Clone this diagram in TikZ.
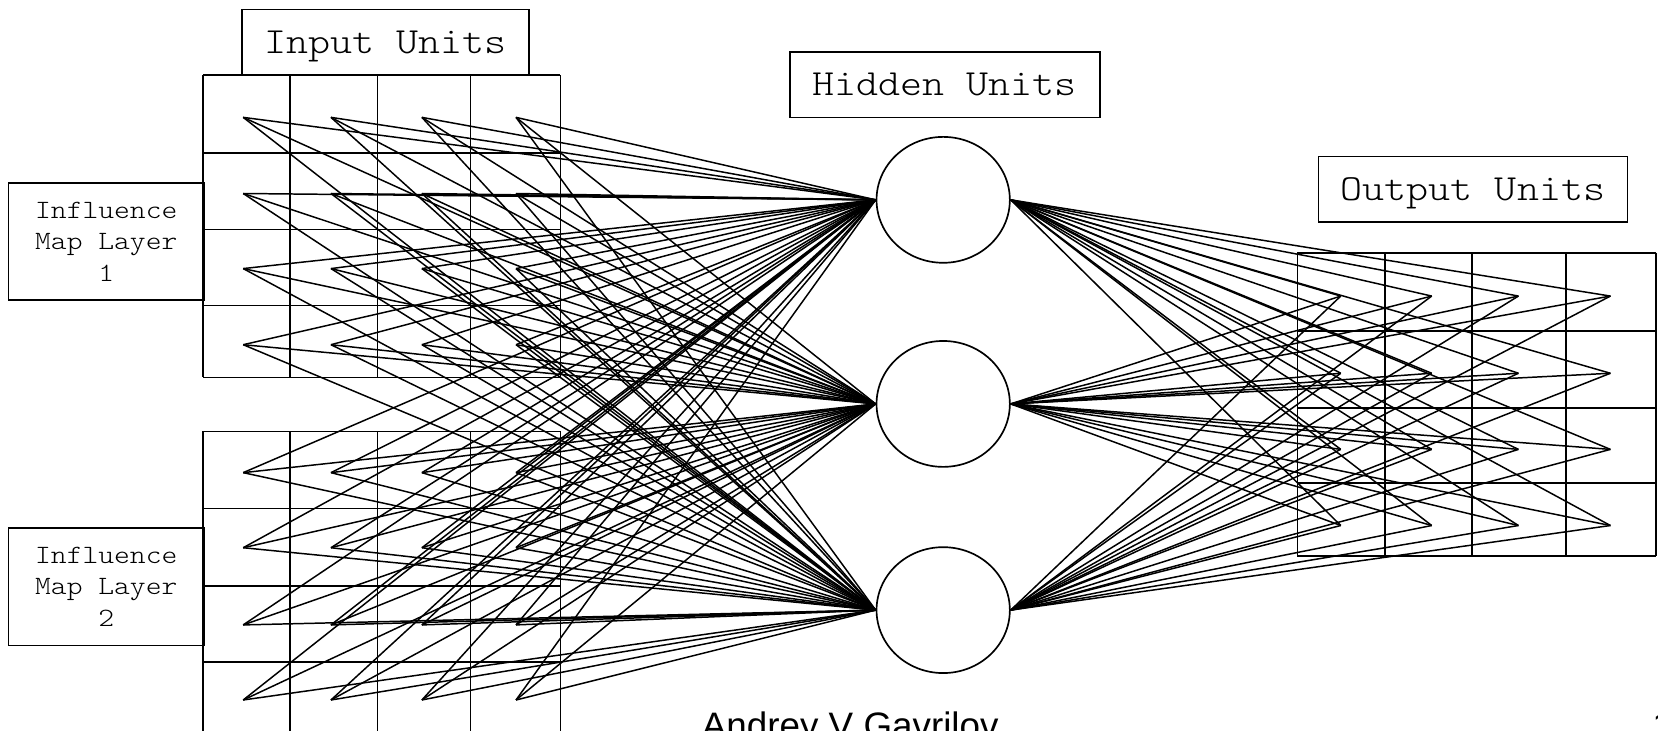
\documentclass[tikz,border=0pt]{standalone}
\usepackage{fontspec}
\newfontfamily\courfont[FakeStretch=1.14]{Latin Modern Mono Light}
\newfontfamily\arialfont{Liberation Sans}
\usetikzlibrary{shapes.geometric}

\begin{document}
\begin{tikzpicture}[x=0.01cm,y=-0.01cm,line width=0.45pt]

\tikzset{unitbox/.style = {draw,inner sep=0pt,minimum height=0.62cm,text depth=0pt,font=\courfont\fontsize{9.9}{12}\selectfont}}
\tikzset{layerbox/.style = {draw,inner sep=0pt,minimum width=1.85cm,minimum height=1.11cm,align=center,font=\courfont\fontsize{7.1}{8.45}\selectfont}}
\tikzset{unit/.style = {shape=ellipse,draw,inner sep=0pt,minimum width=1.26cm,minimum height=1.19cm}}
\tikzset{edge/.style = {line width=0.4pt}}

\useasboundingbox (0,0) rectangle (1568,691);

% labels
\node[unitbox,minimum width=2.71cm] (inlabel) at (364.5,40) {Input Units};
\node[unitbox,minimum width=2.93cm] (hidlabel) at (893.5,80) {Hidden Units};
\node[unitbox,minimum width=2.92cm] (outlabel) at (1393,179) {Output Units};
\node[layerbox] (map1) at (100.5,228.5) {Influence\\Map Layer\\1};
\node[layerbox] (map2) at (100.5,555) {Influence\\Map Layer\\2};

% grids
\foreach \x in {192,274,357,445,530} \draw (\x,71) -- (\x,357);
\foreach \y in {71,145,217,289,357} \draw (192,\y) -- (530,\y);
\foreach \x in {192,274,357,445,530} \draw (\x,408) -- (\x,700);
\foreach \y in {408,481,554,626} \draw (192,\y) -- (530,\y);
\foreach \x in {1227,1310,1392,1481,1566} \draw (\x,239) -- (\x,526);
\foreach \y in {239,313,386,457,526} \draw (1227,\y) -- (1566,\y);

% units
\node[unit] (h1) at (892,189) {};
\node[unit] (h2) at (892,382) {};
\node[unit] (h3) at (892,577) {};

\foreach \y [count=\r] in {111,183,254,326}
  \foreach \x [count=\c] in {230,313,399,488}
    \coordinate (a\r\c) at (\x,\y);
\foreach \y [count=\r] in {447,518,591,662}
  \foreach \x [count=\c] in {230,313,399,488}
    \coordinate (b\r\c) at (\x,\y);
\foreach \y [count=\r] in {280,353,425,497}
  \foreach \x [count=\c] in {1268,1354,1436,1523}
    \coordinate (o\r\c) at (\x,\y);

%edges
\foreach \r in {1,...,4}
  \foreach \c in {1,...,4}
    \foreach \h in {h1,h2,h3} {
      \draw[edge] (a\r\c) -- (\h.west);
      \draw[edge] (b\r\c) -- (\h.west);
      \draw[edge] (\h.east) -- (o\r\c);
    }

% footer
\node[font=\arialfont\fontsize{9.9}{12}\selectfont,anchor=base west,inner sep=0pt] (author) at (663,698) {Andrey V Gavrilov};
\node[font=\arialfont\fontsize{9.9}{12}\selectfont,anchor=base west,inner sep=0pt] (pagenum) at (1562,698) {1};

\end{tikzpicture}
\end{document}
